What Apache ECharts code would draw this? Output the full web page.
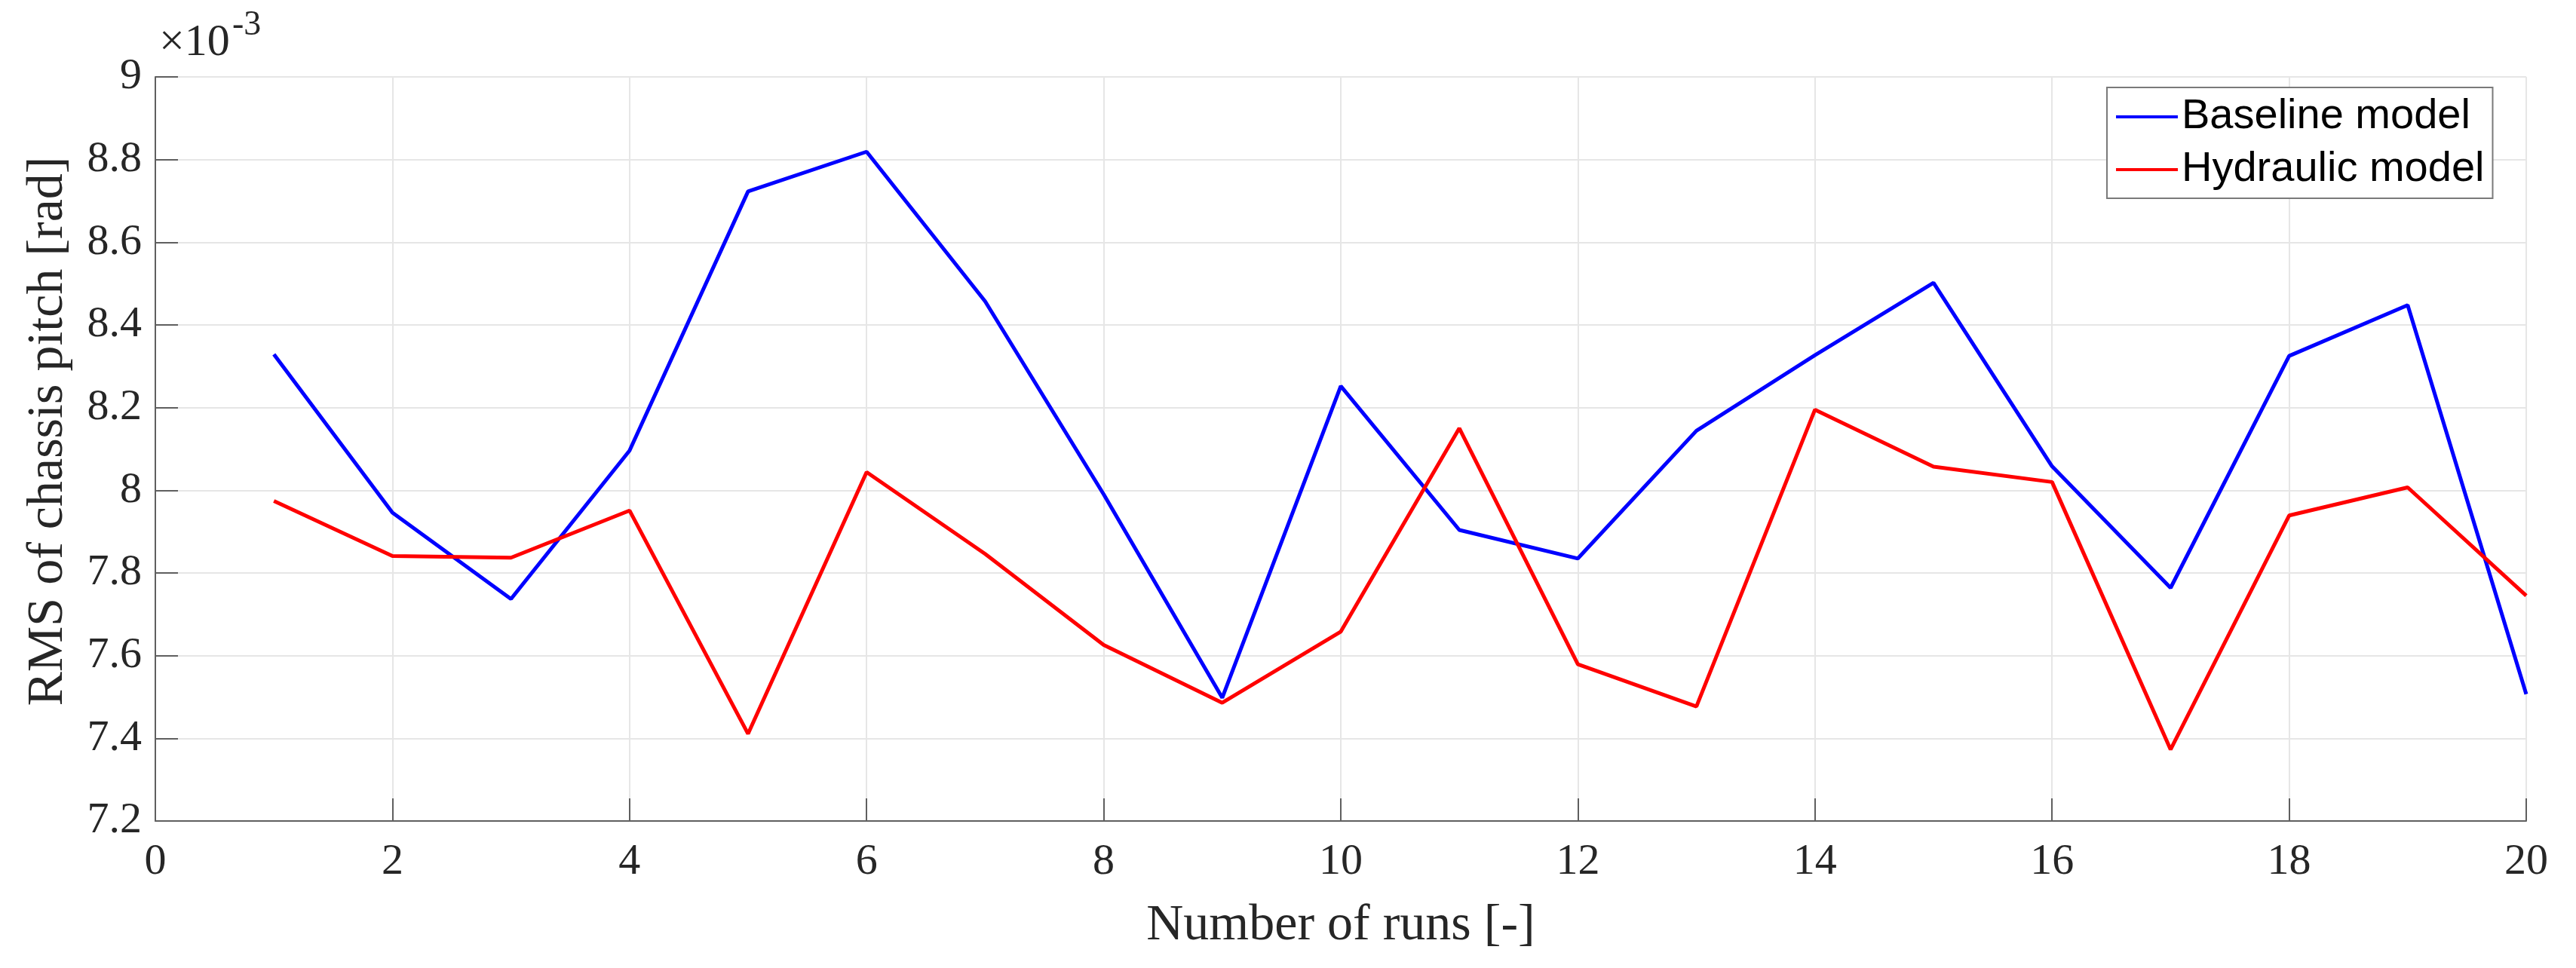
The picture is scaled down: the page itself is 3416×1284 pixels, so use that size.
<!DOCTYPE html>
<html>
<head>
<meta charset="utf-8">
<script src="https://cdn.jsdelivr.net/npm/echarts@6/dist/echarts.min.js"></script>
<style>
  html, body { margin: 0; padding: 0; background: #ffffff; }
  #chart { width: 3416px; height: 1284px; }
</style>
</head>
<body>
<div id="chart"></div>
<script>
// Values in units of 10^-3 rad (axis shows a ×10^-3 multiplier)
const runs = [1, 2, 3, 4, 5, 6, 7, 8, 9, 10, 11, 12, 13, 14, 15, 16, 17, 18, 19, 20];
const baselineModel = [8.329, 7.946, 7.737, 8.096, 8.723, 8.819, 8.457, 7.990, 7.498, 8.252,
                       7.904, 7.835, 8.144, 8.327, 8.502, 8.058, 7.764, 8.325, 8.448, 7.507];
const hydraulicModel = [7.974, 7.841, 7.837, 7.951, 7.411, 8.044, 7.846, 7.626, 7.486, 7.658,
                        8.150, 7.579, 7.477, 8.195, 8.057, 8.020, 7.373, 7.939, 8.007, 7.745];
const seriesNames = ['Baseline model', 'Hydraulic model'];
const xTitle = 'Number of runs [-]';
const yTitle = 'RMS of chassis pitch [rad]';

const chart = echarts.init(document.getElementById('chart'), null, { renderer: 'canvas' });

const axisColor = '#5f5f5f';
const textColor = '#262626';
const serif = '"Liberation Serif", "DejaVu Serif", serif';

const option = {
  animation: false,
  backgroundColor: '#ffffff',
  grid: { left: 206, right: 66, top: 102, bottom: 195, containLabel: false },
  xAxis: {
    type: 'value', min: 0, max: 20, interval: 2,
    axisLine: { show: true, onZero: false, lineStyle: { color: axisColor, width: 2 } },
    axisTick: { show: true, inside: true, length: 30, lineStyle: { color: axisColor, width: 2 } },
    axisLabel: { margin: 26, color: textColor, fontFamily: serif, fontSize: 58 },
    splitLine: { show: true, lineStyle: { color: '#e6e6e6', width: 2 } }
  },
  yAxis: {
    type: 'value', min: 7.2, max: 9, interval: 0.2,
    axisLine: { show: true, onZero: false, lineStyle: { color: axisColor, width: 2 } },
    axisTick: { show: true, inside: true, length: 30, lineStyle: { color: axisColor, width: 2 } },
    axisLabel: {
      margin: 18, color: textColor, fontFamily: serif, fontSize: 58,
      formatter: v => String(parseFloat(v.toFixed(1)))
    },
    splitLine: { show: true, lineStyle: { color: '#e6e6e6', width: 2 } }
  },
  legend: {
    orient: 'vertical',
    left: 2794, top: 116,
    padding: [11, 11, 10, 12],
    itemWidth: 82, itemHeight: 4, itemGap: 14,
    icon: 'rect',
    backgroundColor: '#ffffff',
    borderColor: '#7a7a7a', borderWidth: 2,
    textStyle: { fontFamily: '"Liberation Sans", Arial, sans-serif', fontSize: 56, color: '#000000' },
    data: seriesNames
  },
  series: [
    {
      name: seriesNames[0], type: 'line', symbol: 'none',
      lineStyle: { color: '#0000ff', width: 5 }, itemStyle: { color: '#0000ff' },
      data: runs.map((r, i) => [r, baselineModel[i]])
    },
    {
      name: seriesNames[1], type: 'line', symbol: 'none',
      lineStyle: { color: '#ff0000', width: 5 }, itemStyle: { color: '#ff0000' },
      data: runs.map((r, i) => [r, hydraulicModel[i]])
    }
  ],
  graphic: [
    {
      type: 'text', x: 1778, y: 1228,
      style: { text: xTitle, font: '68px ' + serif, fill: textColor, align: 'center', verticalAlign: 'middle' }
    },
    {
      type: 'text', x: 64, y: 572, rotation: Math.PI / 2,
      style: { text: yTitle, font: '68px ' + serif, fill: textColor, align: 'center', verticalAlign: 'middle' }
    },
    {
      type: 'text', x: 211, y: 57,
      style: { text: '×10', font: '60px ' + serif, fill: textColor, align: 'left', verticalAlign: 'middle' }
    },
    {
      type: 'text', x: 308, y: 34,
      style: { text: '-3', font: '46px ' + serif, fill: textColor, align: 'left', verticalAlign: 'middle' }
    }
  ]
};

chart.setOption(option);
</script>
</body>
</html>
